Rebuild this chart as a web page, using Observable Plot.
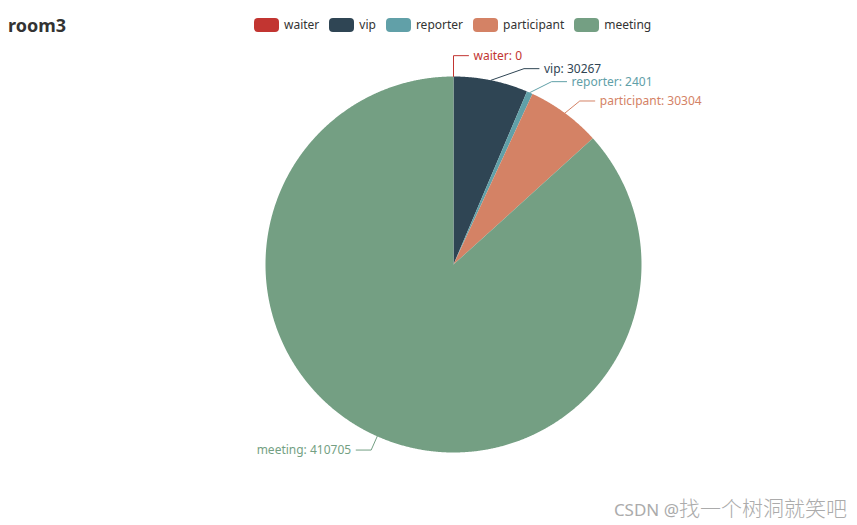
<!DOCTYPE html>
<html>
<head>
<meta charset="utf-8">
<script src="https://cdn.jsdelivr.net/npm/d3@7"></script>
<script src="https://cdn.jsdelivr.net/npm/@observablehq/plot@0.6"></script>
<style>
  body { margin: 0; background: #fff; font-family: "Noto Sans", "Open Sans", sans-serif; }
  #wrap { position: relative; width: 857px; height: 525px; overflow: hidden; }
  #header { position: relative; height: 50px; }
  #title { position: absolute; left: 8px; top: 13px; font-size: 18px; font-weight: bold; color: #333; line-height: 24px; }
  #legend { position: absolute; left: 254px; top: 18px; display: flex; align-items: center; }
  .item { display: flex; align-items: center; margin-right: 10px; font-size: 12px; color: #333; line-height: 14px; }
  .sw { width: 25px; height: 14px; border-radius: 4px; margin-right: 5px; }
  #wm { position: absolute; right: 10px; top: 496px; line-height: 22px; color: #ababab; white-space: nowrap; }
  #wm .lat { font-family: "Noto Sans", sans-serif; font-size: 17px; }
  #wm .cjk { font-family: "Noto Sans CJK SC", sans-serif; font-size: 21px; font-weight: 300; }
</style>
</head>
<body>
<div id="wrap">
  <div id="header"><div id="title"></div><div id="legend"></div></div>
  <div id="chart"></div>
  <div id="wm"><span class="lat">CSDN @</span><span class="cjk">找一个树洞就笑吧</span></div>
</div>
<script>
const title = "room3";
const names = ["waiter", "vip", "reporter", "participant", "meeting"];
const values = [0, 30267, 2401, 30304, 410705];
const colors = ["#c23531", "#2f4554", "#61a0a8", "#d48265", "#749f83"];

document.getElementById("title").textContent = title;
const legend = document.getElementById("legend");
names.forEach((n, i) => {
  const it = document.createElement("div");
  it.className = "item";
  const sw = document.createElement("div");
  sw.className = "sw";
  sw.style.background = colors[i];
  it.appendChild(sw);
  const t = document.createElement("span");
  t.textContent = n;
  it.appendChild(t);
  legend.appendChild(it);
});

// layout constants (pixels)
const W = 857, H = 475, CX = 453, CY = 214, R = 188, RA = 203, L2 = 15, GAP = 13;

const arcs = d3.pie().sort(null).startAngle(0).endAngle(2 * Math.PI)(values);

// slice polygons
const slicePts = [];
arcs.forEach((a, i) => {
  if (a.endAngle - a.startAngle <= 0) return;
  slicePts.push({name: names[i], x: 0, y: 0});
  const n = Math.max(2, Math.ceil((a.endAngle - a.startAngle) / (Math.PI / 720)));
  for (let k = 0; k <= n; k++) {
    const t = a.startAngle + (a.endAngle - a.startAngle) * k / n;
    slicePts.push({name: names[i], x: R * Math.sin(t), y: -R * Math.cos(t)});
  }
});

// labels: natural position, then symmetric overlap relaxation per side
const labels = arcs.map((a, i) => {
  const mid = (a.startAngle + a.endAngle) / 2;
  const right = Math.sin(mid) >= -1e-9;
  return {name: names[i], value: values[i], mid, right, y: -RA * Math.cos(mid)};
});
for (const side of [true, false]) {
  const ls = labels.filter(l => l.right === side).sort((a, b) => a.y - b.y);
  for (let it = 0; it < 200; it++) {
    for (let k = 1; k < ls.length; k++) {
      const d = ls[k].y - ls[k - 1].y;
      if (d < GAP) {
        const s = (GAP - d) / 2;
        ls[k - 1].y -= s;
        ls[k].y += s;
      }
    }
  }
  // ellipse for x, vertical semi-axis = outermost label distance
  for (const half of [-1, 1]) {
    const hs = ls.filter(l => Math.sign(l.y) === half || (l.y === 0 && half === 1));
    const rB = Math.max(RA, ...hs.map(l => Math.abs(l.y)));
    hs.forEach(l => {
      const s = side ? 1 : -1;
      l.elbow = s * RA * Math.sqrt(Math.max(0, 1 - (l.y / rB) ** 2));
    });
  }
}
const linePts = [];
labels.forEach(l => {
  const s = l.right ? 1 : -1;
  l.ex = l.elbow + s * L2;
  l.tx = l.ex + s * 5;
  linePts.push({name: l.name, x: R * Math.sin(l.mid), y: -R * Math.cos(l.mid)});
  linePts.push({name: l.name, x: l.elbow, y: l.y});
  linePts.push({name: l.name, x: l.ex, y: l.y});
});

const color = {domain: names, range: colors};

const plot = Plot.plot({
  width: W,
  height: H,
  margin: 0,
  x: {domain: [-CX, W - CX], range: [0, W], axis: null},
  y: {domain: [-CY, H - CY], range: [0, H], axis: null},
  color,
  style: {fontFamily: "'Noto Sans', 'Open Sans', sans-serif", background: "transparent", overflow: "visible"},
  marks: [
    Plot.line(slicePts, {x: "x", y: "y", z: "name", fill: "name", stroke: "none", curve: "linear-closed"}),
    Plot.line(linePts, {x: "x", y: "y", z: "name", stroke: "name", strokeWidth: 1, curve: "linear"}),
    Plot.text(labels.filter(l => l.right), {x: "tx", y: "y", text: d => `${d.name}: ${d.value}`, fill: "name", textAnchor: "start", fontSize: 12}),
    Plot.text(labels.filter(l => !l.right), {x: "tx", y: "y", text: d => `${d.name}: ${d.value}`, fill: "name", textAnchor: "end", fontSize: 12})
  ]
});
document.getElementById("chart").appendChild(plot);
</script>
</body>
</html>
